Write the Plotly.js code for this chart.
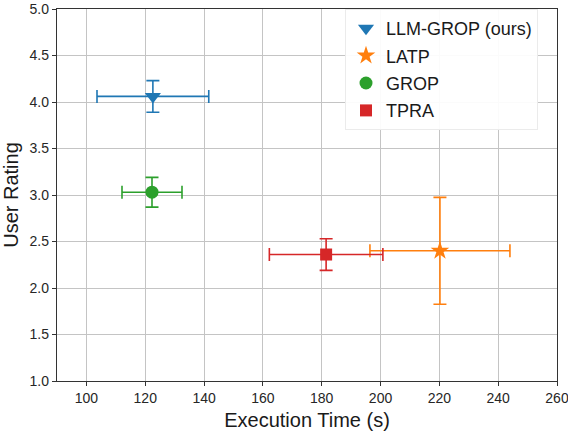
<!DOCTYPE html>
<html>
<head>
<meta charset="utf-8">
<script src="https://cdn.plot.ly/plotly-3.0.1.min.js"></script>
<style>html,body{margin:0;padding:0;background:#fff;}#chart{width:568px;height:434px;}</style>
</head>
<body>
<div id="chart"></div>
<script>
const methods = ['LLM-GROP (ours)', 'LATP', 'GROP', 'TPRA'];
const execTime = [122.6, 220.2, 122.3, 181.5];
const execTimeErr = [19.0, 23.8, 10.2, 19.3];
const userRating = [4.06, 2.40, 3.03, 2.36];
const userRatingErr = [0.17, 0.575, 0.16, 0.17];
const colors = ['#1f77b4', '#ff7f0e', '#2ca02c', '#d62728'];
const symbols = ['triangle-down', 'star', 'circle', 'square'];
const sizes = [14, 14, 13, 12];
const xTicks = [100, 120, 140, 160, 180, 200, 220, 240, 260];
const yTicks = [1.0, 1.5, 2.0, 2.5, 3.0, 3.5, 4.0, 4.5, 5.0];

const traces = methods.map((m, i) => ({
  type: 'scatter',
  mode: 'markers',
  name: m,
  legendgroup: 'g' + i,
  x: [execTime[i]],
  y: [userRating[i]],
  marker: {color: colors[i], symbol: symbols[i], size: sizes[i], line: {width: 0}},
  error_x: {type: 'data', array: [execTimeErr[i]], visible: true, color: colors[i], thickness: 1.6, width: 6.5},
  error_y: {type: 'data', array: [userRatingErr[i]], visible: true, color: colors[i], thickness: 1.6, width: 6.5}
}));

const axisCommon = {
  showgrid: true, gridcolor: '#c4c4c4', gridwidth: 1,
  showline: true, mirror: true, linecolor: '#333333', linewidth: 1.2,
  ticks: 'outside', ticklen: 4, tickcolor: '#333333', tickwidth: 1,
  zeroline: false, ticklabeloverflow: 'allow',
  tickfont: {family: 'Liberation Sans, Arial, sans-serif', size: 14, color: '#262626'}
};

const layout = {
  width: 568, height: 434,
  margin: {l: 57, r: 11, t: 9, b: 53},
  paper_bgcolor: '#ffffff', plot_bgcolor: '#ffffff',
  font: {family: 'Liberation Sans, Arial, sans-serif', color: '#262626'},
  showlegend: true,
  legend: {
    x: 0.576, xanchor: 'left', y: 1.0, yanchor: 'top',
    bgcolor: 'rgba(255,255,255,0.92)', bordercolor: '#ebebeb', borderwidth: 1,
    font: {family: 'Liberation Sans, Arial, sans-serif', size: 18, color: '#1a1a1a'},
    tracegroupgap: 1, entrywidth: 162, itemwidth: 30
  },
  xaxis: Object.assign({}, axisCommon, {
    range: [90, 260], tickvals: xTicks, ticktext: xTicks.map(String),
    title: {text: 'Execution Time (s)', font: {size: 20, color: '#1a1a1a'}, standoff: 8}
  }),
  yaxis: Object.assign({}, axisCommon, {
    range: [1.0, 5.0], tickvals: yTicks, ticktext: yTicks.map(v => v.toFixed(1)),
    title: {text: 'User Rating', font: {size: 20, color: '#1a1a1a'}, standoff: 7}
  })
};

Plotly.newPlot('chart', traces, layout, {displayModeBar: false, staticPlot: true});
</script>
</body>
</html>
